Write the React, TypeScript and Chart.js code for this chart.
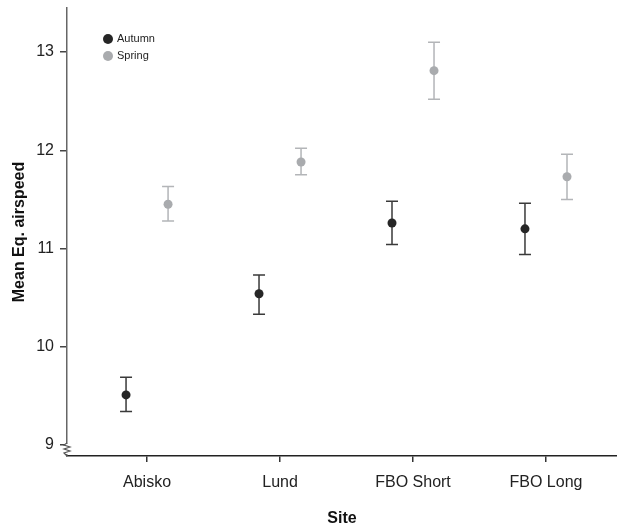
import React, { useEffect, useRef } from "react";
import { Chart, registerables } from "chart.js";

Chart.register(...registerables);

const sites = ["Abisko", "Lund", "FBO Short", "FBO Long"];
const seriesNames = ["Autumn", "Spring"];
const autumnMean = [9.51, 10.54, 11.26, 11.2];
const autumnLow = [9.34, 10.33, 11.04, 10.94];
const autumnHigh = [9.69, 10.73, 11.48, 11.46];
const springMean = [11.45, 11.88, 12.81, 11.73];
const springLow = [11.28, 11.75, 12.52, 11.5];
const springHigh = [11.63, 12.02, 13.1, 11.96];
const yTicks = [9, 10, 11, 12, 13];

const AUTUMN = "#262626";
const AUTUMN_BAR = "#3a3a3a";
const SPRING = "#a9abae";
const SPRING_BAR = "#b3b5b8";
const OFFSET = 0.158;
const FONT = "'Liberation Sans', Arial, Helvetica, sans-serif";

export default function App() {
  const ref = useRef<HTMLCanvasElement | null>(null);

  useEffect(() => {
    document.body.style.margin = "0";
    const canvas = ref.current;
    if (!canvas) return;

    const mk = (mean: number[], off: number) =>
      mean.map((v, i) => ({ x: i + 1 + off, y: v }));

    const errors = [
      { low: autumnLow, high: autumnHigh, color: AUTUMN_BAR, off: -OFFSET },
      { low: springLow, high: springHigh, color: SPRING_BAR, off: OFFSET },
    ];

    const errorPlugin = {
      id: "errorBars",
      beforeDatasetsDraw(chart: any) {
        const ctx = chart.ctx;
        const xs = chart.scales.x;
        const ys = chart.scales.y;
        ctx.save();
        errors.forEach((e) => {
          ctx.strokeStyle = e.color;
          ctx.lineWidth = 1.5;
          e.low.forEach((lo, i) => {
            const x = xs.getPixelForValue(i + 1 + e.off);
            const y1 = ys.getPixelForValue(lo);
            const y2 = ys.getPixelForValue(e.high[i]);
            ctx.beginPath();
            ctx.moveTo(x, y1);
            ctx.lineTo(x, y2);
            ctx.moveTo(x - 6, y1);
            ctx.lineTo(x + 6, y1);
            ctx.moveTo(x - 6, y2);
            ctx.lineTo(x + 6, y2);
            ctx.stroke();
          });
        });
        ctx.restore();
      },
      afterDraw(chart: any) {
        const ctx = chart.ctx;
        const ys = chart.scales.y;
        const area = chart.chartArea;
        const ax = area.left;
        const y9 = ys.getPixelForValue(9);
        ctx.save();
        // axis break
        ctx.fillStyle = "#ffffff";
        ctx.fillRect(ax - 2, y9 - 1, 5, area.bottom - y9 - 1);
        ctx.strokeStyle = "#555555";
        ctx.lineWidth = 1.2;
        ctx.beginPath();
        ctx.moveTo(ax, y9 - 2);
        ctx.lineTo(ax - 3, y9);
        ctx.lineTo(ax + 3, y9 + 2);
        ctx.lineTo(ax - 3, y9 + 4);
        ctx.lineTo(ax + 3, y9 + 6);
        ctx.lineTo(ax - 3, y9 + 8);
        ctx.lineTo(ax, area.bottom);
        ctx.stroke();
        // legend
        const colors = [AUTUMN, SPRING];
        ctx.font = "11px " + FONT;
        ctx.textBaseline = "middle";
        ctx.textAlign = "left";
        seriesNames.forEach((n, i) => {
          const cy = 39 + i * 17;
          ctx.fillStyle = colors[i];
          ctx.beginPath();
          ctx.arc(108, cy, 5, 0, Math.PI * 2);
          ctx.fill();
          ctx.fillStyle = "#222222";
          ctx.fillText(n, 117, cy);
        });
        ctx.restore();
      },
    };

    const chart = new Chart(canvas, {
      type: "scatter",
      data: {
        datasets: [
          {
            label: seriesNames[0],
            data: mk(autumnMean, -OFFSET),
            backgroundColor: AUTUMN,
            borderColor: AUTUMN,
            pointRadius: 4.5,
            pointBorderWidth: 0,
            clip: false,
          },
          {
            label: seriesNames[1],
            data: mk(springMean, OFFSET),
            backgroundColor: SPRING,
            borderColor: SPRING,
            pointRadius: 4.5,
            pointBorderWidth: 0,
            clip: false,
          },
        ],
      },
      options: {
        animation: false,
        responsive: false,
        devicePixelRatio: 1,
        layout: { autoPadding: false, padding: { top: 8, right: 0, left: 0, bottom: 0 } },
        plugins: {
          legend: { display: false },
          tooltip: { enabled: false },
        },
        scales: {
          x: {
            type: "linear",
            min: 0.398,
            max: 4.534,
            afterFit: (s: any) => {
              s.height = 72;
              s.paddingLeft = 0;
              s.paddingRight = 0;
            },
            afterBuildTicks: (s: any) => {
              s.ticks = sites.map((_, i) => ({ value: i + 1 }));
            },
            ticks: {
              callback: (v: any) => sites[Number(v) - 1] ?? "",
              color: "#222222",
              font: { family: FONT, size: 16 },
              padding: 11,
              autoSkip: false,
              maxRotation: 0,
            },
            grid: {
              drawOnChartArea: false,
              drawTicks: true,
              tickLength: 6,
              color: "#333333",
              lineWidth: 1.5,
            },
            border: { display: true, color: "#222222", width: 1.5 },
            title: {
              display: true,
              text: "Site",
              color: "#111111",
              font: { family: FONT, size: 16, weight: "bold" },
              padding: { top: 0, bottom: 0 },
            },
          },
          y: {
            type: "linear",
            min: 8.888,
            max: 13.448,
            afterFit: (s: any) => {
              s.width = 67;
              s.paddingTop = 0;
              s.paddingBottom = 0;
            },
            afterBuildTicks: (s: any) => {
              s.ticks = yTicks.map((v) => ({ value: v }));
            },
            ticks: {
              color: "#222222",
              font: { family: FONT, size: 16 },
              padding: 6,
            },
            grid: {
              drawOnChartArea: false,
              drawTicks: true,
              tickLength: 7,
              color: "#444444",
              lineWidth: 1.5,
            },
            border: { display: true, color: "#666666", width: 1.5 },
            title: {
              display: true,
              text: "Mean Eq. airspeed",
              color: "#111111",
              font: { family: FONT, size: 16, weight: "bold" },
              padding: { top: 10, bottom: 0 },
            },
          },
        },
      },
      plugins: [errorPlugin],
    } as any);

    return () => chart.destroy();
  }, []);

  return (
    <div style={{ width: 617, height: 528 }}>
      <canvas ref={ref} width={617} height={528} style={{ display: "block" }} />
    </div>
  );
}
